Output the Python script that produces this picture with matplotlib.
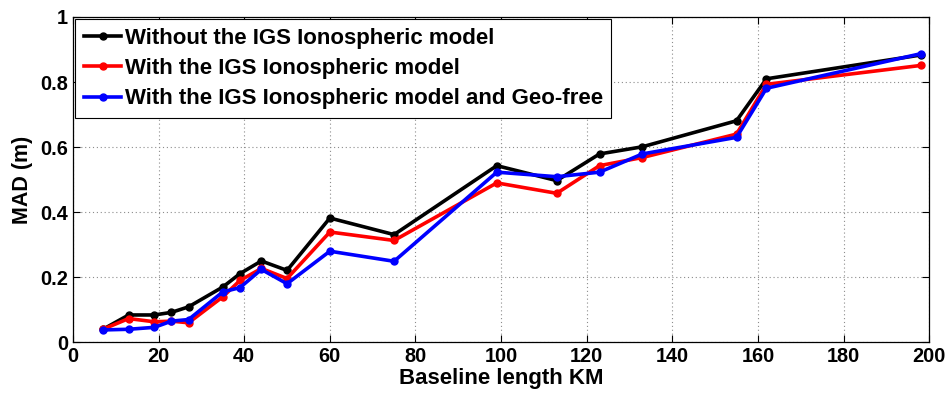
import numpy as np
import matplotlib.pyplot as plt

plt.rcParams['font.family'] = ['Liberation Sans', 'DejaVu Sans']
plt.rcParams['font.weight'] = 'bold'

# baseline length (km) for each station pair
baseline_km = [7, 13, 19, 23, 27, 35, 39, 44, 50, 60, 75, 99, 113, 123, 133, 155, 162, 198]

# MAD (m) for each processing case
mad_no_igs = [0.04, 0.084, 0.084, 0.092, 0.109, 0.17, 0.211, 0.25, 0.221,
              0.382, 0.331, 0.543, 0.497, 0.579, 0.601, 0.681, 0.81, 0.883]
mad_igs = [0.04, 0.073, 0.063, 0.065, 0.06, 0.14, 0.19, 0.227, 0.196,
           0.339, 0.313, 0.49, 0.458, 0.543, 0.568, 0.64, 0.793, 0.851]
mad_igs_geofree = [0.038, 0.04, 0.046, 0.065, 0.07, 0.155, 0.168, 0.224, 0.18,
                   0.28, 0.249, 0.523, 0.509, 0.523, 0.579, 0.63, 0.781, 0.887]

labels = ['Without the IGS Ionospheric model',
          'With the IGS Ionospheric model',
          'With the IGS Ionospheric model and Geo-free']
colors = ['k', '#ff0000', '#0000ff']

fig = plt.figure(figsize=(9.52, 3.97), dpi=100)
ax = fig.add_axes([0.0767, 0.1378, 0.8993, 0.8194])

for y, lab, c in zip([mad_no_igs, mad_igs, mad_igs_geofree], labels, colors):
    ax.plot(baseline_km, y, '-o', color=c, lw=2.6, ms=5, label=lab)

ax.set_xlim(0, 200)
ax.set_ylim(0, 1)
ax.set_xticks(np.arange(0, 201, 20))
ax.set_yticks([0, 0.2, 0.4, 0.6, 0.8, 1])
ax.set_yticklabels(['0', '0.2', '0.4', '0.6', '0.8', '1'])
ax.tick_params(direction='in', top=True, right=True, labelsize=14.3, length=5, width=0.8)
ax.grid(True, linestyle=(0, (1, 2.5)), color='#8c8c8c', lw=0.8)
for s in ax.spines.values():
    s.set_linewidth(0.9)

ax.set_xlabel('Baseline length KM', fontsize=16, fontweight='bold', labelpad=1)
ax.set_ylabel('MAD (m)', fontsize=15.5, fontweight='bold', labelpad=5)

leg = ax.legend(loc='upper left', fontsize=16, handlelength=1.7, handletextpad=0.15,
                labelspacing=0.42, borderaxespad=0.1, borderpad=0.38,
                fancybox=False, framealpha=1)
leg.get_frame().set_edgecolor('k')
leg.get_frame().set_linewidth(0.8)

fig.savefig('out.png', dpi=100)
